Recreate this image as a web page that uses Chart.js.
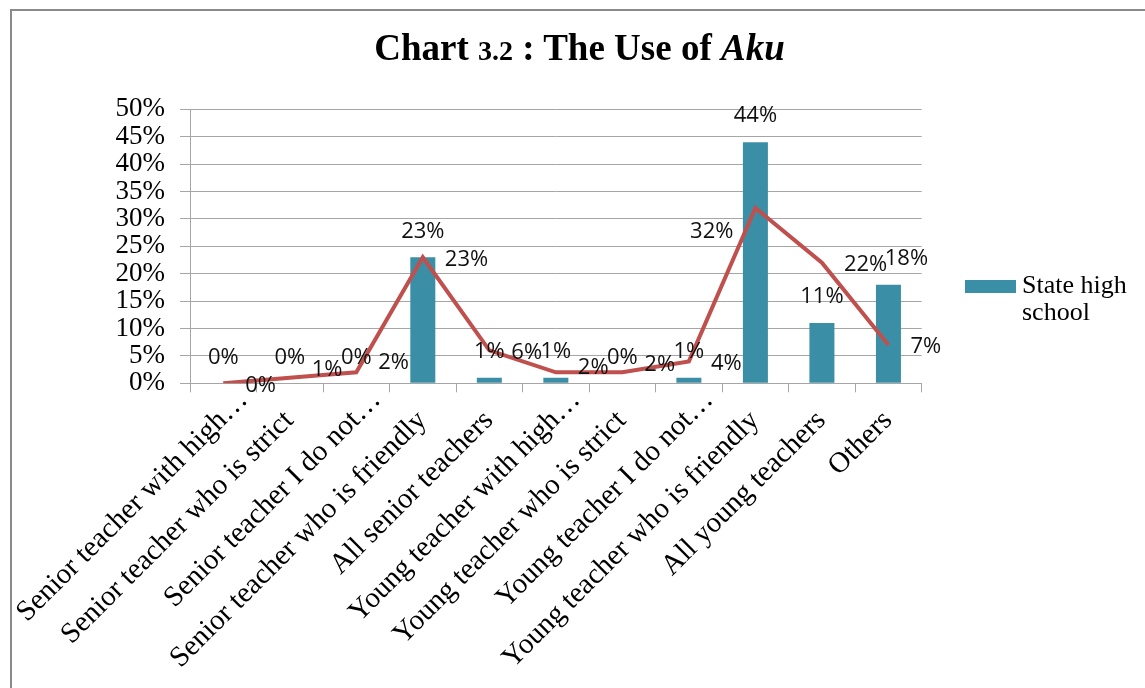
<!DOCTYPE html>
<html>
<head>
<meta charset="utf-8">
<script src="https://cdn.jsdelivr.net/npm/chart.js@4.4.0/dist/chart.umd.min.js"></script>
<style>
html,body{margin:0;padding:0;background:#fff;overflow:hidden;width:1145px;height:688px;}
#frame{position:absolute;left:10px;top:9px;width:2000px;height:2000px;border:2px solid #8a8a8a;box-sizing:border-box;}
#c{position:absolute;left:0;top:0;}
#title{position:absolute;left:0;top:29px;width:1159px;text-align:center;font-family:"Liberation Serif","Times New Roman",serif;font-weight:bold;font-size:37px;line-height:37px;color:#000;white-space:nowrap;}
#title .num{font-size:28px;}
#legendBox{position:absolute;left:965px;top:280px;width:51px;height:13px;background:#3a8fa6;}
#legendText{position:absolute;left:1022px;top:271px;font-family:"Liberation Serif","Times New Roman",serif;font-size:26px;line-height:27px;color:#000;white-space:nowrap;}
</style>
</head>
<body>
<div id="frame"></div>
<canvas id="c" width="1145" height="688"></canvas>
<div id="title">Chart <span class="num">3.2</span> : The Use of <i>Aku</i></div>
<div id="legendBox"></div>
<div id="legendText">State high<br>school</div>
<script>
const categories = [
  "Senior teacher with high…",
  "Senior teacher who is strict",
  "Senior teacher I do not…",
  "Senior teacher who is friendly",
  "All senior teachers",
  "Young teacher with high…",
  "Young teacher who is strict",
  "Young teacher I do not…",
  "Young teacher who is friendly",
  "All young teachers",
  "Others"
];
const stateHighSchool = [0, 0, 0, 23, 1, 1, 0, 1, 44, 11, 18];
const secondSeries   = [0, 1, 2, 23, 6, 2, 2, 4, 32, 22, 7];
const yMin = 0, yMax = 50, yStep = 5;

const BAR_COLOR = '#3a8fa6';
const LINE_COLOR = '#c0504d';
const GRID_COLOR = '#a6a6a6';
const SERIF = '"Liberation Serif", "Times New Roman", serif';
const LINE_LABEL_LEFT = 8; // index whose line label sits left of the point
// hand-placed label nudges, as in the original (index -> pixels)
const LINE_LABEL_DY = { 1: -10, 2: -12, 5: -7, 6: -10 };
const BAR_LABEL_DX = { 10: 18 };

const valueLabels = {
  id: 'valueLabels',
  afterDatasetsDraw(chart) {
    const ctx = chart.ctx;
    ctx.save();
    ctx.font = '22px "Open Sans", sans-serif';
    ctx.fillStyle = '#111';
    ctx.textBaseline = 'middle';
    chart.data.datasets.forEach((ds, di) => {
      const meta = chart.getDatasetMeta(di);
      meta.data.forEach((el, i) => {
        const txt = ds.data[i] + '%';
        if (meta.type === 'bar') {
          ctx.textAlign = 'center';
          ctx.fillText(txt, el.x + (BAR_LABEL_DX[i] || 0), el.y - 26);
        } else if (i === LINE_LABEL_LEFT) {
          ctx.textAlign = 'right';
          ctx.fillText(txt, el.x - 22, el.y + 24);
        } else {
          ctx.textAlign = 'left';
          ctx.fillText(txt, el.x + 22, el.y + 2 + (LINE_LABEL_DY[i] || 0));
        }
      });
    });
    ctx.restore();
  }
};

new Chart(document.getElementById('c'), {
  type: 'bar',
  data: {
    labels: categories,
    datasets: [
      {
        type: 'line',
        label: 'Series 2',
        data: secondSeries,
        borderColor: LINE_COLOR,
        backgroundColor: LINE_COLOR,
        borderWidth: 4,
        pointRadius: 0,
        tension: 0,
        fill: false,
        order: 0
      },
      {
        type: 'bar',
        label: 'State high school',
        data: stateHighSchool,
        backgroundColor: BAR_COLOR,
        categoryPercentage: 1,
        barPercentage: 0.376,
        order: 1
      }
    ]
  },
  options: {
    responsive: false,
    animation: false,
    devicePixelRatio: 1,
    layout: { padding: { left: 0, top: 109.3, right: 223.3, bottom: 0 } },
    plugins: {
      legend: { display: false },
      title: { display: false },
      tooltip: { enabled: false }
    },
    scales: {
      x: {
        offset: true,
        grid: { display: true, drawOnChartArea: false, drawTicks: true, tickLength: 9, color: GRID_COLOR, offset: true },
        border: { color: GRID_COLOR, width: 1 },
        ticks: {
          autoSkip: false, minRotation: 45, maxRotation: 45, padding: -9, labelOffset: 20, color: '#000',
          font: { family: SERIF, size: 29 },
          // truncated (…) labels sit further out along the slant, as in the original
          callback: (v, i) => categories[i].endsWith('…') ? categories[i] : categories[i] + '\u2003'
        },
        afterFit(s) { s.height = 688 - 383.3; s.paddingLeft = 0; s.paddingRight = 0; }
      },
      y: {
        min: yMin, max: yMax,
        grid: { color: GRID_COLOR, lineWidth: 1, tickLength: 10, drawTicks: true },
        border: { color: GRID_COLOR, width: 1 },
        ticks: {
          stepSize: yStep, autoSkip: false, padding: 15, color: '#000',
          font: { family: SERIF, size: 27, lineHeight: 1 },
          callback: v => v + '%'
        },
        afterFit(s) { s.width = 190; }
      }
    }
  },
  plugins: [valueLabels]
});
</script>
</body>
</html>
